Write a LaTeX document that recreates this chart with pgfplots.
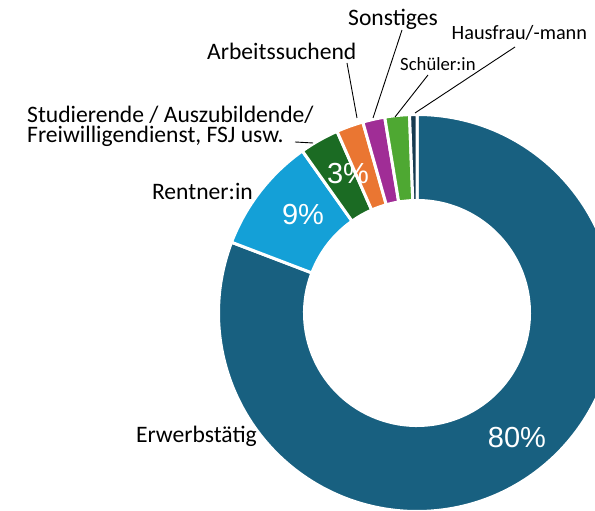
\documentclass[border=0pt]{standalone}
\usepackage{pgfplots}
\usepackage{pgfplotstable}
\pgfplotsset{compat=1.18}
\usepackage{fontspec}
\setmainfont{Carlito}
\newfontfamily\pctfont{Liberation Sans}
\definecolor{cErw}{RGB}{24,96,128}
\definecolor{cRent}{RGB}{20,160,215}
\definecolor{cStud}{RGB}{27,107,35}
\definecolor{cArb}{RGB}{234,118,50}
\definecolor{cSon}{RGB}{160,45,150}
\definecolor{cSch}{RGB}{78,168,50}
\definecolor{cHaus}{RGB}{22,58,80}

\pgfplotstableread{
share color
80.8 cErw
9.4 cRent
3.2 cStud
2.2 cArb
1.8 cSon
2.0 cSch
0.6 cHaus
}\donutdata

\newcommand\lab{\fontsize{23.6bp}{19.6bp}\selectfont}
\newcommand\labm{\fontsize{20.3bp}{22bp}\selectfont}
\newcommand\labs{\fontsize{18.7bp}{20bp}\selectfont}
\newcommand\pct{\pctfont\fontsize{29bp}{30bp}\selectfont}

\begin{document}
\begin{tikzpicture}
\begin{axis}[x=1bp,y=1bp,xmin=0,xmax=595,ymin=0,ymax=511,
  hide axis,clip=true,clip bounding box=upper bound]
\pgfplotstablegetrowsof{\donutdata}
\pgfmathtruncatemacro\lastrow{\pgfplotsretval-1}
\gdef\cum{0}
\pgfplotsforeachungrouped \i in {0,...,\lastrow}{%
  \pgfplotstablegetelem{\i}{share}\of\donutdata \let\val\pgfplotsretval
  \pgfplotstablegetelem{\i}{color}\of\donutdata \let\col\pgfplotsretval
  \pgfmathsetmacro\angA{90-3.6*\cum}%
  \pgfmathsetmacro\angB{90-3.6*(\cum+\val)}%
  \edef\temp{\noexpand\fill[\col,draw=white,line width=3bp,line join=round]
    ([shift={(\angA:198.5bp)}]axis cs:417,198) arc[start angle=\angA,end angle=\angB,radius=198.5bp]
    -- ([shift={(\angB:112.5bp)}]axis cs:417,198) arc[start angle=\angB,end angle=\angA,radius=112.5bp] -- cycle;}%
  \temp
  \pgfmathsetmacro\cum{\cum+\val}%
}
% leader lines
\draw[black,line width=0.9bp] (axis cs:295,369) -- (axis cs:313,368);
\draw[black,line width=0.9bp] (axis cs:347,448) -- (axis cs:357,393);
\draw[black,line width=0.9bp] (axis cs:402,481) -- (axis cs:373,393);
\draw[black,line width=0.9bp] (axis cs:428,436) -- (axis cs:395,394);
\draw[black,line width=0.9bp] (axis cs:515,464) -- (axis cs:415,398);
% category labels
\node[anchor=base west,inner sep=0pt,font=\lab,align=left] at (axis cs:27,368.7) {Studierende / Auszubildende/\\Freiwilligendienst, FSJ usw.};
\node[anchor=base east,inner sep=0pt,font=\lab] at (axis cs:253,311) {Rentner:in};
\node[anchor=base east,inner sep=0pt,font=\lab] at (axis cs:257,68.3) {Erwerbstätig};
\node[anchor=base west,inner sep=0pt,font=\lab] at (axis cs:207,451.7) {Arbeitssuchend};
\node[anchor=base west,inner sep=0pt,font=\lab] at (axis cs:348,485) {Sonstiges};
\node[anchor=base west,inner sep=0pt,font=\labm] at (axis cs:451.5,471) {Hausfrau/-mann};
\node[anchor=base west,inner sep=0pt,font=\labs] at (axis cs:400,440.3) {Schüler:in};
% percentages
\node[inner sep=0pt,text=white,font=\pct] at (axis cs:517,73) {80\%};
\node[inner sep=0pt,text=white,font=\pct] at (axis cs:303,296) {9\%};
\node[inner sep=0pt,text=white,font=\pct] at (axis cs:348,337) {3\%};
\end{axis}
\pgfresetboundingbox
\path (current axis.south west) rectangle (current axis.north east);
\end{tikzpicture}
\end{document}
